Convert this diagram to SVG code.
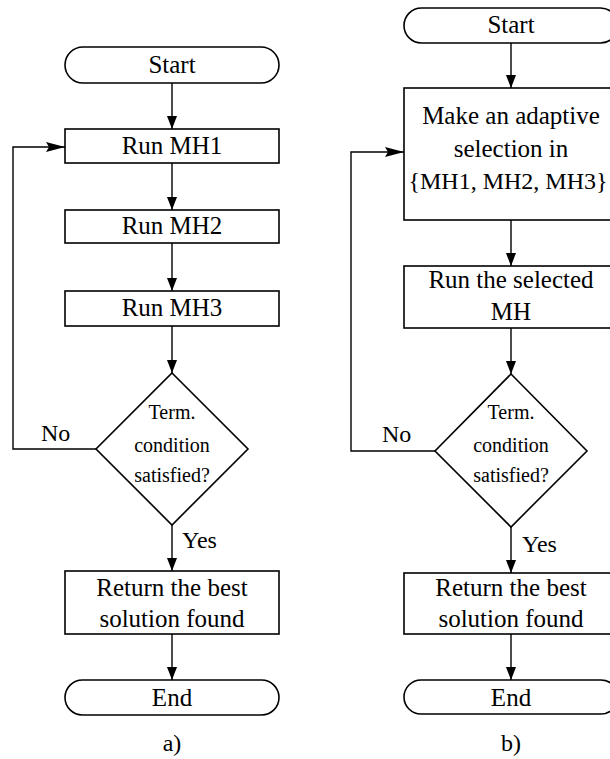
<svg xmlns="http://www.w3.org/2000/svg" width="610" height="759" viewBox="0 0 610 759">
<defs>
<style>
.s{fill:#fff;stroke:#000;stroke-width:1.6}
.c{fill:none;stroke:#000;stroke-width:1.4}
.t{font-size:25px}
.d{font-size:20px}
.l{font-size:24px}
.st{text-anchor:start}
</style>
<marker id="av" markerUnits="userSpaceOnUse" markerWidth="14" markerHeight="12" refX="13" refY="5" orient="auto">
<path d="M0,0 L13,5 L0,10 Z" fill="#000"/>
</marker>
<marker id="ah" markerUnits="userSpaceOnUse" markerWidth="20" markerHeight="12" refX="19" refY="5" orient="auto">
<path d="M0,0 L19,5 L0,10 L3,5 Z" fill="#000"/>
</marker>
</defs>
<rect width="610" height="759" fill="#fff"/>

<g id="connectors">
<line class="c" x1="172" y1="83" x2="172" y2="129" marker-end="url(#av)"/>
<line class="c" x1="172" y1="163" x2="172" y2="210" marker-end="url(#av)"/>
<line class="c" x1="172" y1="243" x2="172" y2="291" marker-end="url(#av)"/>
<line class="c" x1="172" y1="326" x2="172" y2="373" marker-end="url(#av)"/>
<line class="c" x1="172" y1="525" x2="172" y2="571" marker-end="url(#av)"/>
<line class="c" x1="172" y1="634" x2="172" y2="680" marker-end="url(#av)"/>
<polyline class="c" points="96,449 13,449 13,147 65,147" marker-end="url(#ah)"/>

<line class="c" x1="511" y1="43" x2="511" y2="88" marker-end="url(#av)"/>
<line class="c" x1="511" y1="220" x2="511" y2="266" marker-end="url(#av)"/>
<line class="c" x1="511" y1="328" x2="511" y2="374" marker-end="url(#av)"/>
<line class="c" x1="511" y1="527" x2="511" y2="573" marker-end="url(#av)"/>
<line class="c" x1="511" y1="634" x2="511" y2="680" marker-end="url(#av)"/>
<polyline class="c" points="435,451 351,451 351,152 404,152" marker-end="url(#ah)"/>
</g>

<g font-family="'Liberation Serif', 'DejaVu Serif', serif" text-anchor="middle" fill="#000">
<g id="a-start"><rect class="s" x="65" y="47" width="214" height="36" rx="18"/><text class="t" x="172" y="73">Start</text></g>
<g id="a-mh1"><rect class="s" x="65" y="129" width="214" height="34"/><text class="t" x="172" y="154">Run MH1</text></g>
<g id="a-mh2"><rect class="s" x="65" y="210" width="214" height="33"/><text class="t" x="172" y="234">Run MH2</text></g>
<g id="a-mh3"><rect class="s" x="65" y="291" width="214" height="35"/><text class="t" x="172" y="316">Run MH3</text></g>
<g id="a-cond"><polygon class="s" points="172,373 248,449 172,525 96,449"/>
<text class="d" x="172" y="419">Term.</text><text class="d" x="172" y="452">condition</text><text class="d" x="172" y="482">satisfied?</text></g>
<g id="a-return"><rect class="s" x="65" y="571" width="214" height="63"/><text class="t" x="172" y="596">Return the best</text><text class="t" x="172" y="627">solution found</text></g>
<g id="a-end"><rect class="s" x="65" y="680" width="214" height="35" rx="17.5"/><text class="t" x="172" y="706">End</text></g>
<g id="a-labels"><text class="l st" x="41" y="441">No</text><text class="l st" x="182" y="548">Yes</text><text class="l" x="172" y="751">a)</text></g>

<g id="b-start"><rect class="s" x="404" y="8" width="214" height="35" rx="17.5"/><text class="t" x="511" y="33">Start</text></g>
<g id="b-select"><rect class="s" x="404" y="88" width="214" height="132"/><text class="t" x="511" y="124">Make an adaptive</text><text class="t" x="511" y="157">selection in</text><text class="l" x="508" y="189">{MH1, MH2, MH3}</text></g>
<g id="b-run"><rect class="s" x="404" y="266" width="214" height="62"/><text class="t" x="511" y="288">Run the selected</text><text class="t" x="511" y="320">MH</text></g>
<g id="b-cond"><polygon class="s" points="511,374 587,451 511,527 435,451"/>
<text class="d" x="511" y="419">Term.</text><text class="d" x="511" y="452">condition</text><text class="d" x="511" y="482">satisfied?</text></g>
<g id="b-return"><rect class="s" x="404" y="573" width="214" height="61"/><text class="t" x="511" y="596">Return the best</text><text class="t" x="511" y="627">solution found</text></g>
<g id="b-end"><rect class="s" x="404" y="680" width="214" height="34" rx="17"/><text class="t" x="511" y="706">End</text></g>
<g id="b-labels"><text class="l st" x="382" y="442">No</text><text class="l st" x="522" y="552">Yes</text><text class="l" x="511" y="751">b)</text></g>
</g>
</svg>
